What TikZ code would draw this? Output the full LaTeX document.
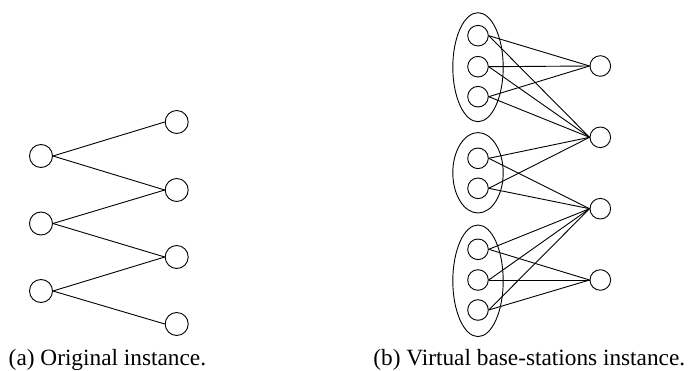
\documentclass[tikz,border=0pt]{standalone}
\usepackage{fontspec}
\setmainfont{Liberation Serif}
\begin{document}
\begin{tikzpicture}[x=1pt,y=-1pt,line width=0.9pt,
  bigv/.style={circle,draw,minimum size=23pt,inner sep=0pt},
  smallv/.style={circle,draw,minimum size=20.6pt,inner sep=0pt},
  captext/.style={anchor=base west,inner sep=0pt,font=\fontsize{23.3}{28}\selectfont}]
\useasboundingbox (0,0) rectangle (691,371);

% (a) original bipartite instance
\node[bigv] (l1) at (41,156) {};
\node[bigv] (l2) at (41,223.5) {};
\node[bigv] (l3) at (41,291) {};
\node[bigv] (r1) at (176.7,122) {};
\node[bigv] (r2) at (176.7,190) {};
\node[bigv] (r3) at (176.7,257) {};
\node[bigv] (r4) at (176.7,324) {};
\foreach \a/\b in {l1/r1,l1/r2,l2/r2,l2/r3,l3/r3,l3/r4}
  \draw (\a.east) -- (\b.west);

% (b) virtual base stations, grouped by original station
\draw (478,67.2) ellipse [x radius=25.2,y radius=54.5];
\draw (478,172.8) ellipse [x radius=25.2,y radius=40.2];
\draw (478,280.8) ellipse [x radius=25.2,y radius=55.8];
\node[smallv] (a1) at (478,35.7) {};
\node[smallv] (a2) at (478,66.7) {};
\node[smallv] (a3) at (478,96.7) {};
\node[smallv] (b1) at (478,158.3) {};
\node[smallv] (b2) at (478,188.3) {};
\node[smallv] (c1) at (478,249.3) {};
\node[smallv] (c2) at (478,280) {};
\node[smallv] (c3) at (478,310) {};
\node[smallv] (s1) at (600.3,66) {};
\node[smallv] (s2) at (600.3,137.3) {};
\node[smallv] (s3) at (600.3,208.7) {};
\node[smallv] (s4) at (600.3,280) {};
\foreach \a in {a1,a2,a3} \foreach \b in {s1,s2} \draw (\a.east) -- (\b.west);
\foreach \a in {b1,b2} \foreach \b in {s2,s3} \draw (\a.east) -- (\b.west);
\foreach \a in {c1,c2,c3} \foreach \b in {s3,s4} \draw (\a.east) -- (\b.west);

% captions
\node[captext] (capa) at (8.3,365.5) {(a) Original instance.};
\node[captext] (capb) at (373,365.5) {(b) Virtual base-stations instance.};
\end{tikzpicture}
\end{document}
